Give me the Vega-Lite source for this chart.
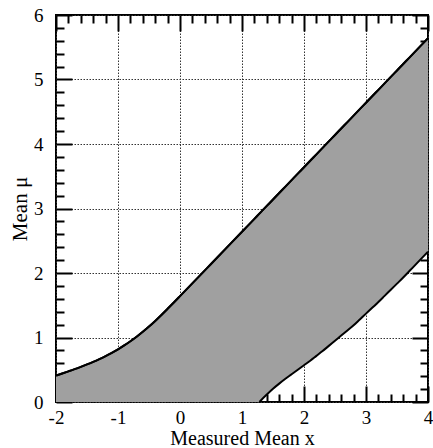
{
  "$schema": "https://vega.github.io/schema/vega-lite/v6.json",
  "autosize": "none",
  "width": 372,
  "height": 387,
  "padding": {"left": 56, "top": 15, "right": 5, "bottom": 46},
  "background": "white",
  "config": {
    "view": {"stroke": "black", "strokeWidth": 2},
    "axis": {"labelFont": "Liberation Serif", "labelFontSize": 19, "titleFont": "Liberation Serif", "titleFontSize": 21, "labelColor": "black", "titleColor": "black", "titleFontWeight": "normal", "domain": false, "zindex": 1, "tickColor": "black"}
  },
  "data": {"values": [
    {"x": -2.0, "upper": 0.41, "lower": 0}, {"x": -1.9, "upper": 0.442, "lower": 0}, {"x": -1.8, "upper": 0.475, "lower": 0}, {"x": -1.7, "upper": 0.509, "lower": 0}, {"x": -1.6, "upper": 0.545, "lower": 0}, {"x": -1.5, "upper": 0.583, "lower": 0}, {"x": -1.4, "upper": 0.623, "lower": 0}, {"x": -1.3, "upper": 0.666, "lower": 0}, {"x": -1.2, "upper": 0.712, "lower": 0}, {"x": -1.1, "upper": 0.762, "lower": 0}, {"x": -1.0, "upper": 0.817, "lower": 0}, {"x": -0.9, "upper": 0.877, "lower": 0}, {"x": -0.8, "upper": 0.942, "lower": 0}, {"x": -0.7, "upper": 1.012, "lower": 0}, {"x": -0.6, "upper": 1.088, "lower": 0}, {"x": -0.5, "upper": 1.17, "lower": 0}, {"x": -0.4, "upper": 1.257, "lower": 0}, {"x": -0.3, "upper": 1.349, "lower": 0}, {"x": -0.2, "upper": 1.445, "lower": 0}, {"x": -0.1, "upper": 1.543, "lower": 0}, {"x": 0.0, "upper": 1.642, "lower": 0},
    {"x": 0.5, "upper": 2.14, "lower": 0}, {"x": 1.0, "upper": 2.64, "lower": 0}, {"x": 1.2, "upper": 2.84, "lower": 0}, {"x": 1.28, "upper": 2.92, "lower": 0},
    {"x": 1.3, "upper": 2.94, "lower": 0.02}, {"x": 1.4, "upper": 3.04, "lower": 0.115}, {"x": 1.5, "upper": 3.14, "lower": 0.205}, {"x": 1.6, "upper": 3.24, "lower": 0.285}, {"x": 1.7, "upper": 3.34, "lower": 0.36}, {"x": 1.8, "upper": 3.44, "lower": 0.43}, {"x": 1.9, "upper": 3.54, "lower": 0.5}, {"x": 2.0, "upper": 3.64, "lower": 0.57}, {"x": 2.1, "upper": 3.74, "lower": 0.64}, {"x": 2.2, "upper": 3.84, "lower": 0.715}, {"x": 2.3, "upper": 3.94, "lower": 0.79}, {"x": 2.4, "upper": 4.04, "lower": 0.87}, {"x": 2.5, "upper": 4.14, "lower": 0.95}, {"x": 2.6, "upper": 4.24, "lower": 1.03}, {"x": 2.7, "upper": 4.34, "lower": 1.11}, {"x": 2.8, "upper": 4.44, "lower": 1.19}, {"x": 2.9, "upper": 4.54, "lower": 1.28}, {"x": 3.0, "upper": 4.64, "lower": 1.37}, {"x": 3.1, "upper": 4.74, "lower": 1.46}, {"x": 3.2, "upper": 4.84, "lower": 1.55}, {"x": 3.3, "upper": 4.94, "lower": 1.645}, {"x": 3.4, "upper": 5.04, "lower": 1.74}, {"x": 3.5, "upper": 5.14, "lower": 1.835}, {"x": 3.6, "upper": 5.24, "lower": 1.93}, {"x": 3.7, "upper": 5.34, "lower": 2.03}, {"x": 3.8, "upper": 5.44, "lower": 2.13}, {"x": 3.9, "upper": 5.54, "lower": 2.23}, {"x": 4.0, "upper": 5.64, "lower": 2.33}
  ]},
  "layer": [
    {
      "mark": {"type": "area", "color": "#a0a0a0", "opacity": 1, "interpolate": "monotone"},
      "encoding": {
        "x": {"field": "x", "type": "quantitative", "scale": {"domain": [-2, 4], "nice": false, "zero": false},
          "axis": {"orient": "bottom", "values": [-2, -1, 0, 1, 2, 3, 4], "labelExpr": "'' + datum.value", "labelFont": "Liberation Serif", "labelFontSize": 19, "title": "Measured Mean x", "titleFont": "Liberation Serif", "titleFontSize": 20, "titleBaseline": "alphabetic", "titleY": 42, "tickSize": -16, "tickWidth": 2, "labelPadding": 22, "grid": true, "gridColor": "#333", "gridDash": [1.5, 1.5], "gridWidth": 1, "labelFlush": false}},
        "y": {"field": "upper", "type": "quantitative", "scale": {"domain": [0, 6], "nice": false},
          "axis": {"orient": "left", "values": [0, 1, 2, 3, 4, 5, 6], "labelExpr": "'' + datum.value", "labelFont": "Liberation Serif", "labelFontSize": 19, "title": "Mean μ", "titleFont": "Liberation Serif", "titleFontSize": 21, "titlePadding": 3, "tickSize": -16, "tickWidth": 2, "labelPadding": 29, "grid": true, "gridColor": "#333", "gridDash": [1.5, 1.5], "gridWidth": 1, "labelFlush": false}},
        "y2": {"field": "lower"}
      }
    },
    {
      "mark": {"type": "line", "color": "black", "strokeWidth": 2, "interpolate": "monotone"},
      "encoding": {
        "x": {"field": "x", "type": "quantitative", "axis": {"orient": "bottom", "values": [-1.8, -1.6, -1.4, -1.2, -0.8, -0.6, -0.4, -0.2, 0.2, 0.4, 0.6, 0.8, 1.2, 1.4, 1.6, 1.8, 2.2, 2.4, 2.6, 2.8, 3.2, 3.4, 3.6, 3.8], "labels": false, "title": null, "grid": false, "tickSize": -8, "tickWidth": 2}},
        "y": {"field": "upper", "type": "quantitative", "axis": {"orient": "left", "values": [0.2, 0.4, 0.6, 0.8, 1.2, 1.4, 1.6, 1.8, 2.2, 2.4, 2.6, 2.8, 3.2, 3.4, 3.6, 3.8, 4.2, 4.4, 4.6, 4.8, 5.2, 5.4, 5.6, 5.8], "labels": false, "title": null, "grid": false, "tickSize": -8, "tickWidth": 2}}
      }
    },
    {
      "transform": [{"filter": "datum.x >= 1.28"}],
      "mark": {"type": "line", "color": "black", "strokeWidth": 2, "interpolate": "monotone"},
      "encoding": {
        "x": {"field": "x", "type": "quantitative", "axis": {"orient": "top", "values": [-2, -1, 0, 1, 2, 3, 4], "labels": false, "title": null, "grid": false, "tickSize": -16, "tickWidth": 2}},
        "y": {"field": "lower", "type": "quantitative", "axis": {"orient": "right", "values": [0, 1, 2, 3, 4, 5, 6], "labels": false, "title": null, "grid": false, "tickSize": -16, "tickWidth": 2}}
      }
    },
    {
      "mark": {"type": "line", "color": "black", "strokeWidth": 2, "interpolate": "monotone"},
      "encoding": {
        "x": {"field": "x", "type": "quantitative", "axis": {"orient": "top", "values": [-1.8, -1.6, -1.4, -1.2, -0.8, -0.6, -0.4, -0.2, 0.2, 0.4, 0.6, 0.8, 1.2, 1.4, 1.6, 1.8, 2.2, 2.4, 2.6, 2.8, 3.2, 3.4, 3.6, 3.8], "labels": false, "title": null, "grid": false, "tickSize": -8, "tickWidth": 2}},
        "y": {"field": "upper", "type": "quantitative", "axis": {"orient": "right", "values": [0.2, 0.4, 0.6, 0.8, 1.2, 1.4, 1.6, 1.8, 2.2, 2.4, 2.6, 2.8, 3.2, 3.4, 3.6, 3.8, 4.2, 4.4, 4.6, 4.8, 5.2, 5.4, 5.6, 5.8], "labels": false, "title": null, "grid": false, "tickSize": -8, "tickWidth": 2}}
      }
    }
  ],
  "resolve": {"axis": {"x": "independent", "y": "independent"}}
}
